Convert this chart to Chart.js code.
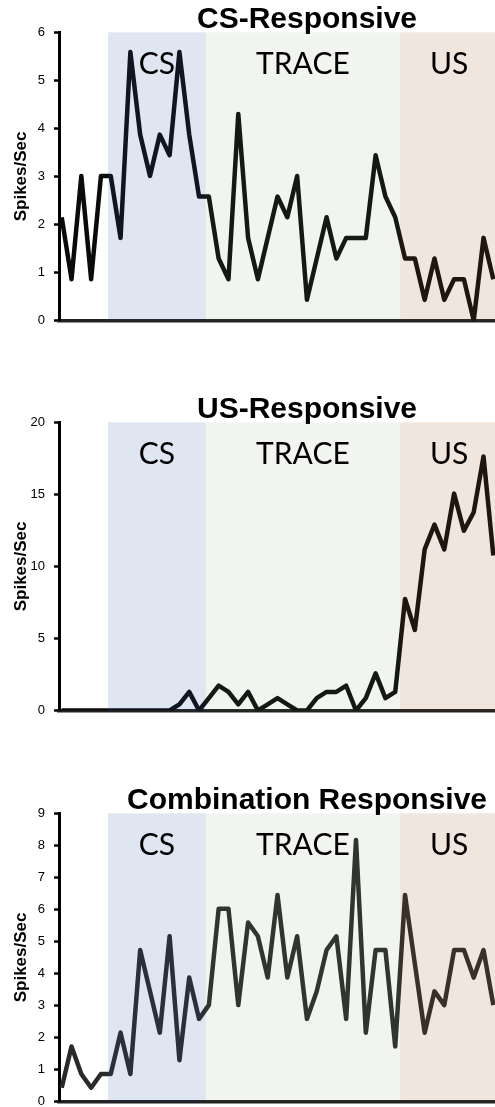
<!DOCTYPE html>
<html><head><meta charset="utf-8">
<script src="https://cdn.jsdelivr.net/npm/chart.js@4.4.1/dist/chart.umd.min.js"></script>
<style>
html,body{margin:0;padding:0;background:#fff;overflow:hidden;width:495px;height:1107px;}
.p{position:absolute;left:0;width:614px;height:390px;}
</style></head><body>
<div class="p" style="top:0px"><canvas id="c1"></canvas></div>
<div class="p" style="top:390px"><canvas id="c2"></canvas></div>
<div class="p" style="top:781px"><canvas id="c3"></canvas></div>
<script>
// time bins (index of each bin)
const timeBins = [0,1,2,3,4,5,6,7,8,9,10,11,12,13,14,15,16,17,18,19,20,21,22,23,24,25,26,27,28,29,30,31,32,33,34,35,36,37,38,39,40,41,42,43,44];
const csResponsive = [2.15,0.86,3.01,0.86,3.01,3.01,1.72,5.59,3.87,3.01,3.87,3.44,5.59,3.87,2.58,2.58,1.29,0.86,4.30,1.72,0.86,1.72,2.58,2.15,3.01,0.43,1.29,2.15,1.29,1.72,1.72,1.72,3.44,2.58,2.15,1.29,1.29,0.43,1.29,0.43,0.86,0.86,0,1.72,0.86];
const usResponsive = [0,0,0,0,0,0,0,0,0,0,0,0,0.43,1.29,0,0.86,1.72,1.29,0.43,1.29,0,0.43,0.86,0.43,0,0,0.86,1.29,1.29,1.72,0,0.86,2.58,0.86,1.29,7.74,5.59,11.18,12.90,11.18,15.05,12.47,13.76,17.63,10.75];
const combinationResponsive = [0.43,1.72,0.86,0.43,0.86,0.86,2.15,0.86,4.73,3.44,2.15,5.16,1.29,3.87,2.58,3.01,6.02,6.02,3.01,5.59,5.16,3.87,6.45,3.87,5.16,2.58,3.44,4.73,5.16,2.58,8.17,2.15,4.73,4.73,1.72,6.45,4.30,2.15,3.44,3.01,4.73,4.73,3.87,4.73,3.01];
const panelTitles = ["CS-Responsive","US-Responsive","Combination Responsive"];
const yMaxima = [6,20,9];
const yTickSteps = [1,5,1];
const epochNames = ["CS","TRACE","US"];
const epochStarts = [4.72,14.68,34.5];
const epochEnds = [14.68,34.5,44.5];

const seriesList = [csResponsive, usResponsive, combinationResponsive];
const lineColors = ['#0b0b0b','#0b0b0b','#2a2a28'];
const epochFills = ['rgba(42,88,162,0.15)','rgba(125,155,95,0.10)','rgba(162,88,35,0.15)'];
const X_MIN = -0.275, X_MAX = 56.3;

const epochPlugin = {
  id: 'epochs',
  afterDatasetsDraw(chart) {
    const {ctx, chartArea: a, scales: {x}} = chart;
    ctx.save();
    epochNames.forEach((name, k) => {
      const l = x.getPixelForValue(epochStarts[k]);
      const r = x.getPixelForValue(epochEnds[k]);
      ctx.fillStyle = epochFills[k];
      ctx.fillRect(l, a.top, r - l, a.bottom - a.top);
      ctx.fillStyle = '#000';
      ctx.font = '30px Lato, "Open Sans", sans-serif';
      ctx.textAlign = 'center';
      ctx.textBaseline = 'alphabetic';
      ctx.fillText(name, (l + r) / 2, a.top + 41.5);
    });
    ctx.restore();
  }
};

function makeChart(id, k) {
  const values = seriesList[k];
  return new Chart(document.getElementById(id), {
    type: 'line',
    data: {
      datasets: [{
        data: timeBins.map((t, i) => ({x: t, y: values[i]})),
        borderColor: lineColors[k],
        borderWidth: 4.5,
        pointRadius: 0,
        tension: 0,
        borderJoinStyle: 'round',
        borderCapStyle: 'butt',
        fill: false
      }]
    },
    options: {
      responsive: true,
      maintainAspectRatio: false,
      devicePixelRatio: 1,
      animation: false,
      layout: {padding: {left: 0, right: 0, top: 0, bottom: 69.5}},
      plugins: {
        legend: {display: false},
        tooltip: {enabled: false},
        title: {
          display: true,
          text: panelTitles[k],
          color: '#000',
          font: {family: '"Liberation Sans", Arial, sans-serif', size: 30, weight: 'bold', lineHeight: 1},
          padding: {top: 5, bottom: -2.7}
        }
      },
      scales: {
        x: {
          type: 'linear', min: X_MIN, max: X_MAX,
          grid: {display: false},
          ticks: {display: false},
          border: {display: true, color: '#222', width: 3.5},
          afterFit(s) { s.height = 0; }
        },
        y: {
          min: 0, max: yMaxima[k],
          ticks: {stepSize: yTickSteps[k], color: '#000', padding: 9,
                  font: {family: '"Liberation Sans", Arial, sans-serif', size: 13}},
          grid: {drawOnChartArea: false, drawTicks: true, tickLength: 5, tickColor: '#000', tickWidth: 2.5},
          border: {display: true, color: '#000', width: 3},
          title: {display: true, text: 'Spikes/Sec', color: '#000',
                  font: {family: '"Liberation Sans", Arial, sans-serif', size: 17, weight: 'bold', lineHeight: 1.2},
                  padding: {top: 11, bottom: 0}},
          afterFit(s) { s.width = 59; }
        }
      }
    },
    plugins: [epochPlugin]
  });
}
makeChart('c1', 0);
makeChart('c2', 1);
makeChart('c3', 2);
</script>
</body></html>
